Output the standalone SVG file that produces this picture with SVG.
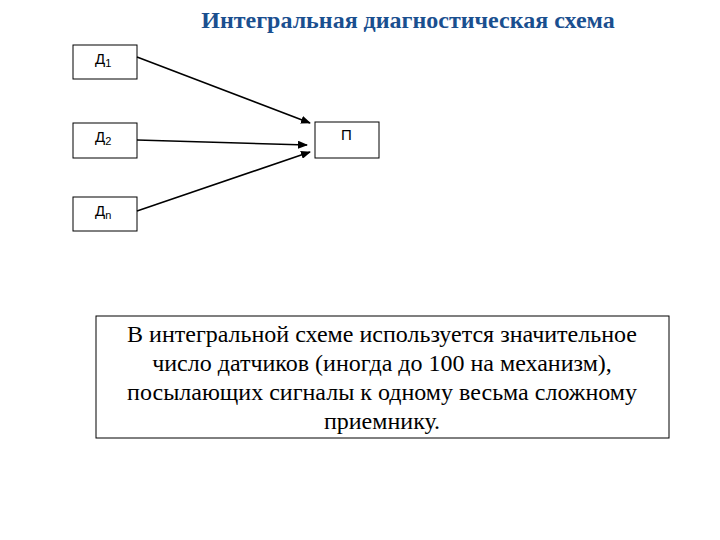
<svg xmlns="http://www.w3.org/2000/svg" width="720" height="540" viewBox="0 0 720 540">
<style>
.b{fill:#fff;stroke:#000;stroke-width:1}
.l{font-family:"Liberation Sans",Arial,sans-serif;font-size:15px}
.s{font-family:"Liberation Sans",Arial,sans-serif;font-size:11px}
.c{stroke:#000;stroke-width:1.5;fill:none;marker-end:url(#a)}
.t{font-family:"Liberation Serif","Times New Roman",serif;font-size:24px;text-anchor:middle}
</style>
<defs><marker id="a" markerWidth="10" markerHeight="8" refX="9" refY="4" orient="auto" markerUnits="userSpaceOnUse"><path d="M0,0L10,4L0,8z" fill="#000"/></marker></defs>
<rect width="720" height="540" fill="#fff"/>
<text x="408" y="28" style="font-family:'Liberation Serif',serif;font-size:24px;font-weight:bold;fill:#1a4f8f" text-anchor="middle">Интегральная диагностическая схема</text>
<g id="d1"><rect class="b" x="73" y="45" width="64" height="34"/><text class="l" x="95" y="64">Д<tspan class="s" dy="3">1</tspan></text></g>
<g id="d2"><rect class="b" x="73" y="123" width="64" height="35"/><text class="l" x="95" y="142">Д<tspan class="s" dy="3">2</tspan></text></g>
<g id="dn"><rect class="b" x="73" y="197" width="64" height="34"/><text class="l" x="95" y="216">Д<tspan class="s" dy="3">n</tspan></text></g>
<g id="p"><rect class="b" x="315" y="122" width="64" height="36"/><text class="l" x="341" y="140">П</text></g>
<g id="conn">
<line class="c" x1="137" y1="57" x2="310" y2="123"/>
<line class="c" x1="137" y1="140" x2="307" y2="145"/>
<line class="c" x1="137" y1="211" x2="310" y2="152"/>
</g>
<g id="note"><rect x="96" y="316" width="573" height="122" fill="#fff" stroke="#000"/>
<text class="t"><tspan x="382" y="342">В интегральной схеме используется значительное</tspan><tspan x="382" y="371">число датчиков (иногда до 100 на механизм),</tspan><tspan x="382" y="400">посылающих  сигналы к одному весьма сложному</tspan><tspan x="382" y="429">приемнику.</tspan></text></g>
</svg>
